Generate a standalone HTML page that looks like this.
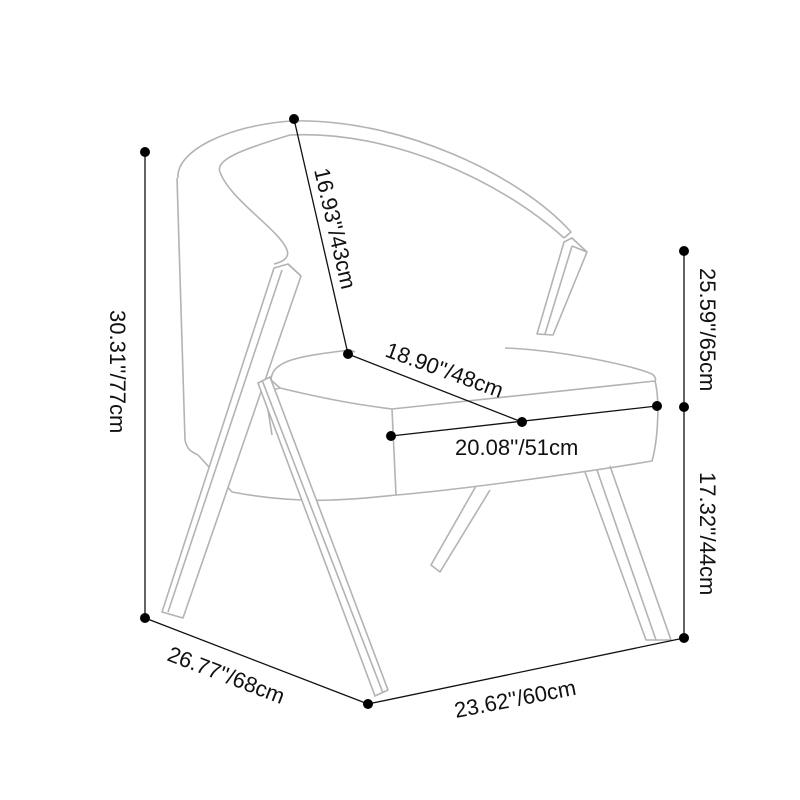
<!DOCTYPE html>
<html><head><style>
html,body{margin:0;padding:0;background:#fff;}
svg{display:block;}
text{font-family:"Liberation Sans",Arial,sans-serif;font-size:22px;fill:#111;}
</style></head><body>
<svg width="800" height="800" viewBox="0 0 800 800" xmlns="http://www.w3.org/2000/svg">
<g fill="none" stroke="#b3b3b3" stroke-width="1.6" stroke-linejoin="round">
<path d="M178,178 C176,150 230,125 292,121 C400,118 520,175 571,232 L564,238"/>
<path d="M220,172 C215,160 240,150 290,135 C390,130 500,180 564,238"/>
<path d="M220,172 C230,200 280,230 287,250 C290,258 282,262 274,264"/>
<path d="M177,178 L185,440 C187,450 192,452 198,455"/>
<path d="M198,455 L232,492 C300,505 350,500 396,495"/>
<path d="M274,268 L288,264 L301,276 L183,618 L162,612 Z" fill="#fff"/>
<path d="M288,264 L301,276"/>
<path d="M282,270 L168,612"/>
<path d="M271,380 C272,360 300,356 350,350 L355,352" fill="#fff"/>
<path d="M271,380 L280,388 C330,400 360,405 392,409 L655,381 C660,400 658,440 652,461 C600,470 460,490 396,495 L392,409"/>
<path d="M505,348 C560,350 630,365 652,374 C656,377 656,380 655,381"/>
<path d="M280,388 C270,390 266,395 268,410 L272,435"/>
<path d="M564,242 L572,238 L587,252 L553,335 L537,334 Z" fill="#fff"/>
<path d="M572,246 L587,252 M572,246 L545,334"/>
<path d="M476,486 L431,565 L440,572 L490,490"/>
<path d="M585,472 L646,640 L671,640 L610,466"/>
<path d="M597,470 L656,640"/>
<path d="M258,383 L270,377 L388,690 L375,696 Z" fill="#fff"/>
<path d="M262,380 L383,693"/>
</g>
<g stroke="#111" stroke-width="1.3">
<line x1="145" y1="152" x2="145" y2="618"/>
<line x1="294" y1="119" x2="348" y2="354"/>
<line x1="348" y1="354" x2="522" y2="422"/>
<line x1="391" y1="436" x2="657" y2="406"/>
<line x1="684" y1="251" x2="684" y2="638"/>
<line x1="145" y1="618" x2="368" y2="704"/>
<line x1="368" y1="704" x2="684" y2="638"/>
</g>
<g fill="#000">
<circle cx="145" cy="152" r="5"/><circle cx="145" cy="618" r="5"/>
<circle cx="294" cy="119" r="5"/><circle cx="348" cy="354" r="5"/>
<circle cx="391" cy="436" r="5"/><circle cx="522" cy="422" r="5"/>
<circle cx="657" cy="406" r="5"/><circle cx="684" cy="251" r="5"/>
<circle cx="684" cy="407" r="5"/><circle cx="684" cy="638" r="5"/>
<circle cx="368" cy="704" r="5"/>
</g>
<text transform="translate(110,310) rotate(90)">30.31''/77cm</text>
<text transform="translate(314,170) rotate(77)">16.93''/43cm</text>
<text transform="translate(384,356) rotate(20)">18.90''/48cm</text>
<text x="455" y="455">20.08''/51cm</text>
<text transform="translate(700,268) rotate(90)">25.59''/65cm</text>
<text transform="translate(700,472) rotate(90)">17.32''/44cm</text>
<text transform="translate(166,660) rotate(21)">26.77''/68cm</text>
<text transform="translate(456,718) rotate(-11)">23.62''/60cm</text>
</svg>
</body></html>
